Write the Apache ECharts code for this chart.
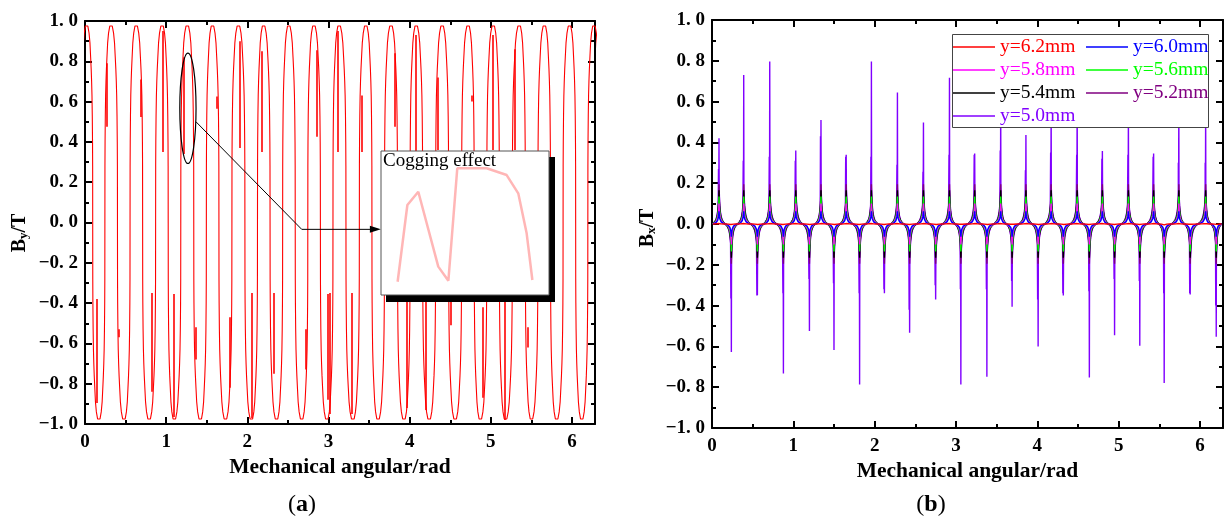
<!DOCTYPE html>
<html><head><meta charset="utf-8">
<script src="https://cdn.jsdelivr.net/npm/echarts@6/dist/echarts.min.js"></script>
<style>html,body{margin:0;padding:0;background:#fff}#c{width:1225px;height:520px}</style>
</head><body><div id="c"></div>
<script>
// ================= DATA =================
const TWO_PI = 6.2832;
const xMajorTicks = [0, 1, 2, 3, 4, 5, 6];
const xMinorTicks = [0.5, 1.5, 2.5, 3.5, 4.5, 5.5];

// Panel (a): B_y — crest and trough positions (rad)
const byCrestX = [0.02,0.32,0.63,0.95,1.26,1.57,1.89,2.20,2.51,2.82,3.13,3.46,3.77,4.08,4.40,4.72,5.03,5.35,5.66,5.97,6.27];
const byTroughX = [0.17,0.48,0.79,1.10,1.42,1.73,2.05,2.36,2.67,2.98,3.30,3.61,3.93,4.24,4.56,4.87,5.18,5.50,5.81,6.12];
// half-wave shape read from one cycle (u = fraction of half-gap to the next extremum)
const byShapeU = [0, 0.2, 0.4, 0.55, 0.66, 0.75, 0.82, 0.88, 0.93, 0.97, 0.99, 1];
const byShapeV = [0.98, 0.975, 0.94, 0.89, 0.82, 0.76, 0.70, 0.63, 0.53, 0.40, 0.28, 0];
// cogging glitches: [x, y1, y2]
const byCogging = [
  [0.267,0.79,0.475],[0.686,0.71,0.524],[0.955,0.95,0.35],[1.22,0.82,0.34],[1.62,0.625,0.565],
  [1.91,0.90,0.37],[2.18,0.85,0.35],[2.86,0.855,0.425],[3.12,0.95,0.35],[3.41,0.63,0.35],
  [3.82,0.84,0.475],[4.08,0.93,0.30],[4.34,0.72,0.36],[4.76,0.63,0.60],[5.02,0.93,0.36],[5.29,0.86,0.36],
  [0.144,-0.38,-0.896],[0.417,-0.53,-0.57],[0.82,-0.35,-0.84],[1.09,-0.355,-0.965],[1.37,-0.52,-0.68],
  [1.78,-0.47,-0.82],[2.05,-0.35,-0.97],[2.32,-0.35,-0.75],[2.72,-0.53,-0.73],[2.99,-0.355,-0.88],
  [3.02,-0.35,-0.95],[3.29,-0.35,-0.95],[3.96,-0.355,-0.92],[4.20,-0.35,-0.93],[4.50,-0.37,-0.51],
  [4.90,-0.42,-0.87],[5.17,-0.355,-0.98],[5.45,-0.52,-0.62]
];
// zoom inset curve (local 0..1 coordinates of the inset box)
const insetX = [0.099,0.157,0.222,0.341,0.401,0.454,0.629,0.748,0.817,0.867,0.901];
const insetY = [0.092,0.625,0.717,0.197,0.099,0.880,0.880,0.833,0.706,0.428,0.104];
// ellipse marking the cogging region: [x, y, rx, ry]
const ellipseMark = [1.268, 0.567, 0.10, 0.274];
// connector polyline (x1,y1,x2,y2,x3,y3)
const connector = [1.367, 0.50, 2.67, -0.034, 3.645, -0.034];

// Panel (b): B_x
const bxPosX = [0.086,0.39,0.71,1.03,1.34,1.65,1.96,2.28,2.60,2.92,3.23,3.55,3.86,4.17,4.49,4.80,5.12,5.43,5.74,6.07];
const bxNegX = [0.238,0.558,0.878,1.198,1.50,1.815,2.12,2.43,2.75,3.06,3.38,3.69,4.01,4.32,4.64,4.95,5.26,5.56,5.88,6.20];
const bxShapeU = [0, 0.03, 0.07, 0.13, 0.22, 0.35, 0.5, 0.7, 0.85, 1];
const bxShapeV = [1, 0.8, 0.6, 0.42, 0.28, 0.17, 0.1, 0.045, 0.015, 0];
const bxNames = ['y=6.2mm','y=6.0mm','y=5.8mm','y=5.6mm','y=5.4mm','y=5.2mm','y=5.0mm'];
const bxColors = ['#ff0000','#0000ff','#ff00ff','#00ff00','#000000','#800080','#8000ff'];
const bxAmps = [0.004, 0.062, 0.10, 0.135, 0.165, 0.195, 0.22];
// y=5.0mm narrow peaks
const bxPosMain = [0.42,0.73,0.796,0.36,0.51,0.34,0.796,0.644,0.497,0.717,0.346,0.60,0.436,0.62,0.70,0.358,0.55,0.346,0.60,0.55];
const bxPosSec  = [0.27,0.31,0.33,0.31,0.43,0.33,0.33,0.29,0.256,0.34,0.34,0.36,0.264,0.35,0.34,0.32,0.34,0.33,0.30,0.30];
const bxNegMain = [-0.627,-0.349,-0.733,-0.524,-0.618,-0.787,-0.34,-0.533,-0.37,-0.787,-0.749,-0.406,-0.60,-0.35,-0.752,-0.545,-0.597,-0.779,-0.345,-0.553];
const bxNegSec  = [-0.365,-0.35,-0.34,-0.27,-0.29,-0.34,-0.32,-0.42,-0.30,-0.32,-0.32,-0.28,-0.37,-0.34,-0.33,-0.27,-0.28,-0.34,-0.34,-0.40];

// ================= BUILD =================
function mergeExt(pos, neg, extraPos, extraNeg) {
  const e = [];
  pos.forEach((x, i) => e.push({x, s: 1, main: extraPos ? extraPos[0][i] : null, sec: extraPos ? extraPos[1][i] : null}));
  neg.forEach((x, i) => e.push({x, s: -1, main: extraNeg ? extraNeg[0][i] : null, sec: extraNeg ? extraNeg[1][i] : null}));
  return e.sort((a, b) => a.x - b.x);
}
function buildWave(ext, U, V, amp, withPeaks) {
  const pts = [];
  for (let i = 0; i < ext.length; i++) {
    const e = ext[i];
    const gL = i > 0 ? e.x - ext[i - 1].x : ext[1].x - ext[0].x;
    const gR = i < ext.length - 1 ? ext[i + 1].x - e.x : e.x - ext[i - 1].x;
    const local = [];
    const startJ = i === 0 ? U.length - 1 : U.length - 2;
    for (let j = startJ; j >= 1; j--) local.push([e.x - U[j] * gL / 2, e.s * amp * V[j]]);
    if (withPeaks) {
      local.push([e.x - 0.006, e.sec]);
      local.push([e.x, e.main]);
    } else {
      local.push([e.x, e.s * amp * V[0]]);
    }
    for (let j = 1; j < U.length; j++) local.push([e.x + U[j] * gR / 2, e.s * amp * V[j]]);
    local.sort((a, b) => a[0] - b[0]);
    pts.push(...local);
  }
  return pts;
}
const byData = buildWave(mergeExt(byCrestX, byTroughX), byShapeU, byShapeV, 1, false);
const bxExt = mergeExt(bxPosX, bxNegX, [bxPosMain, bxPosSec], [bxNegMain, bxNegSec]);

const SERIF = 'Liberation Serif, Times New Roman, serif';
const fmtY = v => (v < -1e-9 ? '\u2212' : '') + Math.abs(v).toFixed(1).replace('.', '. ');
const labelStyle = {fontFamily: SERIF, fontWeight: 'bold', fontSize: 19, color: '#000'};
const lineBlack = {color: '#000', width: 2};

function xAxes(grid) {
  const base = {type: 'value', gridIndex: grid, min: 0, max: TWO_PI, splitLine: {show: false}};
  return [
    Object.assign({}, base, {position: 'bottom', axisLine: {show: true, onZero: false, lineStyle: lineBlack},
      axisTick: {show: true, inside: true, length: 7, lineStyle: lineBlack, customValues: xMajorTicks},
      axisLabel: Object.assign({show: true, margin: 9, customValues: xMajorTicks}, labelStyle),
      name: 'Mechanical angular/rad', nameLocation: 'middle', nameGap: 32,
      nameTextStyle: {fontFamily: SERIF, fontWeight: 'bold', fontSize: 21.5, color: '#000'}}),
    Object.assign({}, base, {position: 'bottom', axisLine: {show: false, onZero: false},
      axisTick: {show: true, inside: true, length: 4, lineStyle: lineBlack, customValues: xMinorTicks},
      axisLabel: {show: false}}),
    Object.assign({}, base, {position: 'top', axisLine: {show: true, onZero: false, lineStyle: lineBlack},
      axisTick: {show: true, inside: true, length: 7, lineStyle: lineBlack, customValues: xMajorTicks},
      axisLabel: {show: false}}),
    Object.assign({}, base, {position: 'top', axisLine: {show: false, onZero: false},
      axisTick: {show: true, inside: true, length: 4, lineStyle: lineBlack, customValues: xMinorTicks},
      axisLabel: {show: false}})
  ];
}
function yAxes(grid) {
  const base = {type: 'value', gridIndex: grid, min: -1, max: 1, interval: 0.2, splitLine: {show: false},
    minorSplitLine: {show: false},
    axisLine: {show: true, onZero: false, lineStyle: lineBlack},
    axisTick: {show: true, inside: true, length: 7, lineStyle: lineBlack},
    minorTick: {show: true, splitNumber: 2, length: 4, lineStyle: lineBlack}};
  return [
    Object.assign({}, base, {position: 'left', axisLabel: Object.assign({show: true, margin: 7, formatter: fmtY}, labelStyle)}),
    Object.assign({}, base, {position: 'right', axisLabel: {show: false}})
  ];
}

const bxSeries = [];
for (let i = bxNames.length - 1; i >= 0; i--) {
  bxSeries.push({
    name: bxNames[i], type: 'line', xAxisIndex: 4, yAxisIndex: 2,
    data: buildWave(bxExt, bxShapeU, bxShapeV, bxAmps[i], i === 6),
    symbol: 'none', showSymbol: false, lineStyle: {color: bxColors[i], width: 1.4},
    itemStyle: {color: bxColors[i]}, silent: true, z: 2
  });
}

const legendText = {fontFamily: SERIF, fontSize: 19.5, lineHeight: 18};
function legendData(idx) {
  return idx.map(i => ({name: bxNames[i], icon: 'rect', textStyle: {color: bxColors[i]}}));
}
const legendBase = {orient: 'vertical', top: 37, itemWidth: 42, itemHeight: 1.3,
  itemGap: 3, padding: 0, textStyle: legendText, selectedMode: false, z: 6};

const chart = echarts.init(document.getElementById('c'), null, {renderer: 'canvas'});
chart.setOption({
  animation: false,
  backgroundColor: '#fff',
  grid: [
    {left: 85, top: 21, width: 510, height: 403},
    {left: 712, top: 20, width: 511, height: 408},
    {left: 381, top: 151, width: 168, height: 144}
  ],
  xAxis: [...xAxes(0), ...xAxes(1), {type: 'value', gridIndex: 2, min: 0, max: 1, show: false}],
  yAxis: [...yAxes(0), ...yAxes(1), {type: 'value', gridIndex: 2, min: 0, max: 1, show: false}],
  legend: [
    Object.assign({data: legendData([0, 2, 4, 6]), left: 953}, legendBase),
    Object.assign({data: legendData([1, 3, 5]), left: 1086}, legendBase)
  ],
  graphic: [
    {type: 'rect', shape: {x: 386, y: 157, width: 169, height: 145}, style: {fill: '#000'}, z: 50, silent: true},
    {type: 'rect', shape: {x: 381, y: 151, width: 168, height: 144}, style: {fill: '#fff', stroke: '#555', lineWidth: 1}, z: 51, silent: true},
    {type: 'text', x: 383, y: 152, style: {text: 'Cogging effect', font: '19px ' + SERIF, fill: '#000'}, z: 70, silent: true},
    {type: 'rect', shape: {x: 952.5, y: 34.5, width: 256, height: 93}, style: {fill: '#fff', stroke: '#444', lineWidth: 1}, z: 5, silent: true},
    {type: 'text', x: 19, y: 233, rotation: Math.PI / 2,
      style: {text: '{b|B}{s|y}{b|/T}', align: 'center', verticalAlign: 'middle',
        rich: {b: {font: 'bold 20px ' + SERIF, lineHeight: 22, verticalAlign: 'bottom'},
               s: {font: 'bold 13px ' + SERIF, lineHeight: 4, verticalAlign: 'bottom'}}}, silent: true},
    {type: 'text', x: 647, y: 228, rotation: Math.PI / 2,
      style: {text: '{b|B}{s|x}{b|/T}', align: 'center', verticalAlign: 'middle',
        rich: {b: {font: 'bold 20px ' + SERIF, lineHeight: 22, verticalAlign: 'bottom'},
               s: {font: 'bold 13px ' + SERIF, lineHeight: 4, verticalAlign: 'bottom'}}}, silent: true},
    {type: 'text', x: 302, y: 505, style: {text: '{p|(}{a|a}{p|)}', align: 'center', verticalAlign: 'middle',
      rich: {p: {font: '24px ' + SERIF}, a: {font: 'bold 24px ' + SERIF}}}, silent: true},
    {type: 'text', x: 931, y: 505, style: {text: '{p|(}{a|b}{p|)}', align: 'center', verticalAlign: 'middle',
      rich: {p: {font: '24px ' + SERIF}, a: {font: 'bold 24px ' + SERIF}}}, silent: true}
  ],
  series: [
    {type: 'line', xAxisIndex: 0, yAxisIndex: 0, data: byData, symbol: 'none', showSymbol: false,
      lineStyle: {color: '#ff0000', width: 1.1}, silent: true, z: 2},
    {type: 'lines', coordinateSystem: 'cartesian2d', xAxisIndex: 0, yAxisIndex: 0,
      data: byCogging.map(c => ({coords: [[c[0], c[1]], [c[0], c[2]]]})),
      lineStyle: {color: '#ff0000', width: 1.6, opacity: 1}, silent: true, z: 3},
    {type: 'custom', xAxisIndex: 0, yAxisIndex: 0, data: [ellipseMark], encode: {x: 0, y: 1}, z: 10, silent: true, clip: false,
      renderItem: (params, api) => {
        const c = api.coord([api.value(0), api.value(1)]);
        const s = api.size([api.value(2), api.value(3)]);
        return {type: 'ellipse', shape: {cx: c[0], cy: c[1], rx: s[0], ry: s[1]},
          style: {fill: 'none', stroke: '#000', lineWidth: 1.2}};
      }},
    {type: 'custom', xAxisIndex: 0, yAxisIndex: 0, data: [connector], encode: {x: [0, 2, 4], y: [1, 3, 5]}, z: 10, silent: true, clip: false,
      renderItem: (params, api) => {
        const p1 = api.coord([api.value(0), api.value(1)]);
        const p2 = api.coord([api.value(2), api.value(3)]);
        const p3 = api.coord([api.value(4), api.value(5)]);
        const L = 11, W = 3.5;
        return {type: 'group', children: [
          {type: 'polyline', shape: {points: [p1, p2, [p3[0] - L + 1, p3[1]]]}, style: {stroke: '#000', lineWidth: 1, fill: null}},
          {type: 'polygon', shape: {points: [[p3[0], p3[1]], [p3[0] - L, p3[1] - W], [p3[0] - L, p3[1] + W]]}, style: {fill: '#000'}}
        ]};
      }},
    {type: 'line', xAxisIndex: 8, yAxisIndex: 4, data: insetX.map((x, i) => [x, insetY[i]]), symbol: 'none',
      lineStyle: {color: 'rgba(255,110,110,0.5)', width: 2.5}, silent: true, z: 60},
    ...bxSeries
  ]
});
</script></body></html>
